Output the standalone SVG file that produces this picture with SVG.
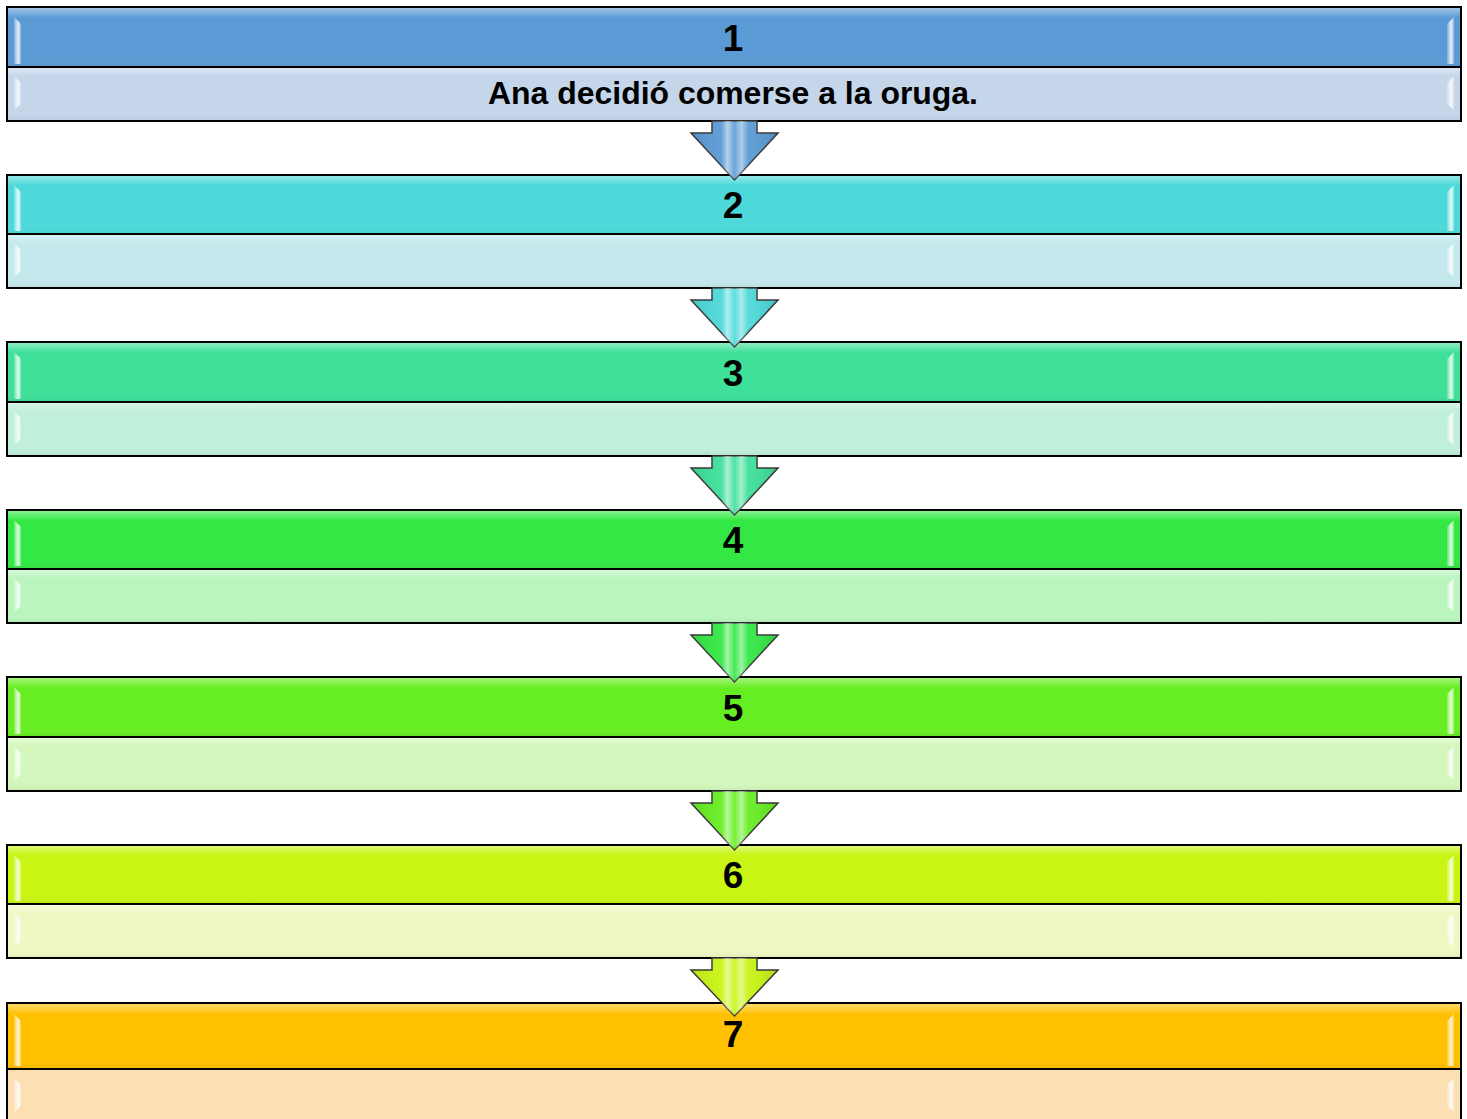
<svg xmlns="http://www.w3.org/2000/svg" width="1467" height="1119" viewBox="0 0 1467 1119">
<style>
.frame{fill:none;stroke:#000;stroke-width:2}
.div{stroke:#000;stroke-width:2}
.num{font-family:"Liberation Sans",Arial,sans-serif;font-weight:bold;font-size:37px;fill:#000;text-anchor:middle}
.txt{font-family:"Liberation Sans",Arial,sans-serif;font-weight:bold;font-size:31px;fill:#000;text-anchor:middle}
.hl{fill:url(#hlg)}
.sheen{fill:url(#topg)}
.arr{stroke:#3a3a3a;stroke-width:1.5;stroke-linejoin:miter}
.arrov{fill:url(#arrg)}
</style>
<defs>
<linearGradient id="topg" x1="0" y1="0" x2="0" y2="1">
<stop offset="0" stop-color="#fff" stop-opacity="0.45"/>
<stop offset="0.18" stop-color="#fff" stop-opacity="0"/>
<stop offset="0.85" stop-color="#fff" stop-opacity="0"/>
<stop offset="1" stop-color="#000" stop-opacity="0.06"/>
</linearGradient>
<linearGradient id="hlg" x1="0" y1="0" x2="1" y2="0">
<stop offset="0" stop-color="#fff" stop-opacity="0.2"/>
<stop offset="0.6" stop-color="#fff" stop-opacity="0.85"/>
<stop offset="1" stop-color="#fff" stop-opacity="0.3"/>
</linearGradient>
<linearGradient id="arrg" x1="0" y1="0" x2="1" y2="0">
<stop offset="0" stop-color="#000" stop-opacity="0.08"/>
<stop offset="0.35" stop-color="#fff" stop-opacity="0.05"/>
<stop offset="0.42" stop-color="#fff" stop-opacity="0.55"/>
<stop offset="0.5" stop-color="#fff" stop-opacity="0.1"/>
<stop offset="0.58" stop-color="#fff" stop-opacity="0.5"/>
<stop offset="0.66" stop-color="#fff" stop-opacity="0.05"/>
<stop offset="1" stop-color="#000" stop-opacity="0.12"/>
</linearGradient>
</defs>

<g id="node1">
<rect x="7" y="7" width="1454" height="60" fill="#5B9BD5"/>
<rect x="7" y="67" width="1454" height="54" fill="#C5D5EA"/>
<rect x="7" y="7" width="1454" height="60" class="sheen"/>
<rect x="7" y="67" width="1454" height="54" class="sheen"/>
<polygon class="hl" points="14,17 21,24 21,64 14,64"/>
<polygon class="hl" points="1454,17 1447,24 1447,64 1454,64"/>
<polygon class="hl" points="14,76 21,83 21,104 14,110"/>
<polygon class="hl" points="1454,76 1447,83 1447,104 1454,110"/>
<rect x="7" y="7" width="1454" height="114" class="frame"/>
<line x1="7" y1="67" x2="1461" y2="67" class="div"/>
<text x="733" y="51" class="num">1</text>
<text x="733" y="104" class="txt" textLength="490" lengthAdjust="spacingAndGlyphs">Ana decidió comerse a la oruga.</text>
</g>

<g id="node2">
<rect x="7" y="175" width="1454" height="59" fill="#4DD9D9"/>
<rect x="7" y="234" width="1454" height="54" fill="#C3E9EC"/>
<rect x="7" y="175" width="1454" height="59" class="sheen"/>
<rect x="7" y="234" width="1454" height="54" class="sheen"/>
<polygon class="hl" points="14,185 21,192 21,231 14,231"/>
<polygon class="hl" points="1454,185 1447,192 1447,231 1454,231"/>
<polygon class="hl" points="14,243 21,250 21,271 14,277"/>
<polygon class="hl" points="1454,243 1447,250 1447,271 1454,277"/>
<rect x="7" y="175" width="1454" height="113" class="frame"/>
<line x1="7" y1="234" x2="1461" y2="234" class="div"/>
<text x="733" y="218" class="num">2</text>
</g>

<g id="node3">
<rect x="7" y="342" width="1454" height="60" fill="#3EE09A"/>
<rect x="7" y="402" width="1454" height="54" fill="#C0EFDA"/>
<rect x="7" y="342" width="1454" height="60" class="sheen"/>
<rect x="7" y="402" width="1454" height="54" class="sheen"/>
<polygon class="hl" points="14,352 21,359 21,399 14,399"/>
<polygon class="hl" points="1454,352 1447,359 1447,399 1454,399"/>
<polygon class="hl" points="14,411 21,418 21,439 14,445"/>
<polygon class="hl" points="1454,411 1447,418 1447,439 1454,445"/>
<rect x="7" y="342" width="1454" height="114" class="frame"/>
<line x1="7" y1="402" x2="1461" y2="402" class="div"/>
<text x="733" y="386" class="num">3</text>
</g>

<g id="node4">
<rect x="7" y="510" width="1454" height="59" fill="#33E844"/>
<rect x="7" y="569" width="1454" height="54" fill="#BAF5BE"/>
<rect x="7" y="510" width="1454" height="59" class="sheen"/>
<rect x="7" y="569" width="1454" height="54" class="sheen"/>
<polygon class="hl" points="14,520 21,527 21,566 14,566"/>
<polygon class="hl" points="1454,520 1447,527 1447,566 1454,566"/>
<polygon class="hl" points="14,578 21,585 21,606 14,612"/>
<polygon class="hl" points="1454,578 1447,585 1447,606 1454,612"/>
<rect x="7" y="510" width="1454" height="113" class="frame"/>
<line x1="7" y1="569" x2="1461" y2="569" class="div"/>
<text x="733" y="553" class="num">4</text>
</g>

<g id="node5">
<rect x="7" y="677" width="1454" height="60" fill="#66EE22"/>
<rect x="7" y="737" width="1454" height="54" fill="#D3F7BC"/>
<rect x="7" y="677" width="1454" height="60" class="sheen"/>
<rect x="7" y="737" width="1454" height="54" class="sheen"/>
<polygon class="hl" points="14,687 21,694 21,734 14,734"/>
<polygon class="hl" points="1454,687 1447,694 1447,734 1454,734"/>
<polygon class="hl" points="14,746 21,753 21,774 14,780"/>
<polygon class="hl" points="1454,746 1447,753 1447,774 1454,780"/>
<rect x="7" y="677" width="1454" height="114" class="frame"/>
<line x1="7" y1="737" x2="1461" y2="737" class="div"/>
<text x="733" y="721" class="num">5</text>
</g>

<g id="node6">
<rect x="7" y="845" width="1454" height="59" fill="#C8F514"/>
<rect x="7" y="904" width="1454" height="54" fill="#EEF8C2"/>
<rect x="7" y="845" width="1454" height="59" class="sheen"/>
<rect x="7" y="904" width="1454" height="54" class="sheen"/>
<polygon class="hl" points="14,855 21,862 21,901 14,901"/>
<polygon class="hl" points="1454,855 1447,862 1447,901 1454,901"/>
<polygon class="hl" points="14,913 21,920 21,941 14,947"/>
<polygon class="hl" points="1454,913 1447,920 1447,941 1454,947"/>
<rect x="7" y="845" width="1454" height="113" class="frame"/>
<line x1="7" y1="904" x2="1461" y2="904" class="div"/>
<text x="733" y="888" class="num">6</text>
</g>

<g id="node7">
<rect x="7" y="1003" width="1454" height="66" fill="#FFC000"/>
<rect x="7" y="1069" width="1454" height="56" fill="#FCE0B4"/>
<rect x="7" y="1003" width="1454" height="66" class="sheen"/>
<polygon class="hl" points="14,1014 21,1021 21,1066 14,1066"/>
<polygon class="hl" points="1454,1014 1447,1021 1447,1066 1454,1066"/>
<polygon class="hl" points="14,1078 21,1085 21,1106 14,1112"/>
<polygon class="hl" points="1454,1078 1447,1085 1447,1106 1454,1112"/>
<rect x="7" y="1003" width="1454" height="130" class="frame"/>
<line x1="7" y1="1069" x2="1461" y2="1069" class="div"/>
<text x="733" y="1047" class="num">7</text>
</g>

<g id="connectors">
<g id="arrow1-2">
<polygon class="arr" fill="#5B9BD5" points="712,121 757,121 757,133 778,133 734.5,180 691,133 712,133"/>
<polygon class="arrov" points="712,121 757,121 757,133 778,133 734.5,180 691,133 712,133"/>
</g>
<g id="arrow2-3">
<polygon class="arr" fill="#4DD9D9" points="712,288 757,288 757,300 778,300 734.5,347 691,300 712,300"/>
<polygon class="arrov" points="712,288 757,288 757,300 778,300 734.5,347 691,300 712,300"/>
</g>
<g id="arrow3-4">
<polygon class="arr" fill="#3EE09A" points="712,456 757,456 757,468 778,468 734.5,515 691,468 712,468"/>
<polygon class="arrov" points="712,456 757,456 757,468 778,468 734.5,515 691,468 712,468"/>
</g>
<g id="arrow4-5">
<polygon class="arr" fill="#33E844" points="712,623 757,623 757,635 778,635 734.5,682 691,635 712,635"/>
<polygon class="arrov" points="712,623 757,623 757,635 778,635 734.5,682 691,635 712,635"/>
</g>
<g id="arrow5-6">
<polygon class="arr" fill="#66EE22" points="712,791 757,791 757,803 778,803 734.5,850 691,803 712,803"/>
<polygon class="arrov" points="712,791 757,791 757,803 778,803 734.5,850 691,803 712,803"/>
</g>
<g id="arrow6-7">
<polygon class="arr" fill="#C8F514" points="712,958 757,958 757,970 778,970 734.5,1016 691,970 712,970"/>
<polygon class="arrov" points="712,958 757,958 757,970 778,970 734.5,1016 691,970 712,970"/>
</g>
</g>
</svg>
